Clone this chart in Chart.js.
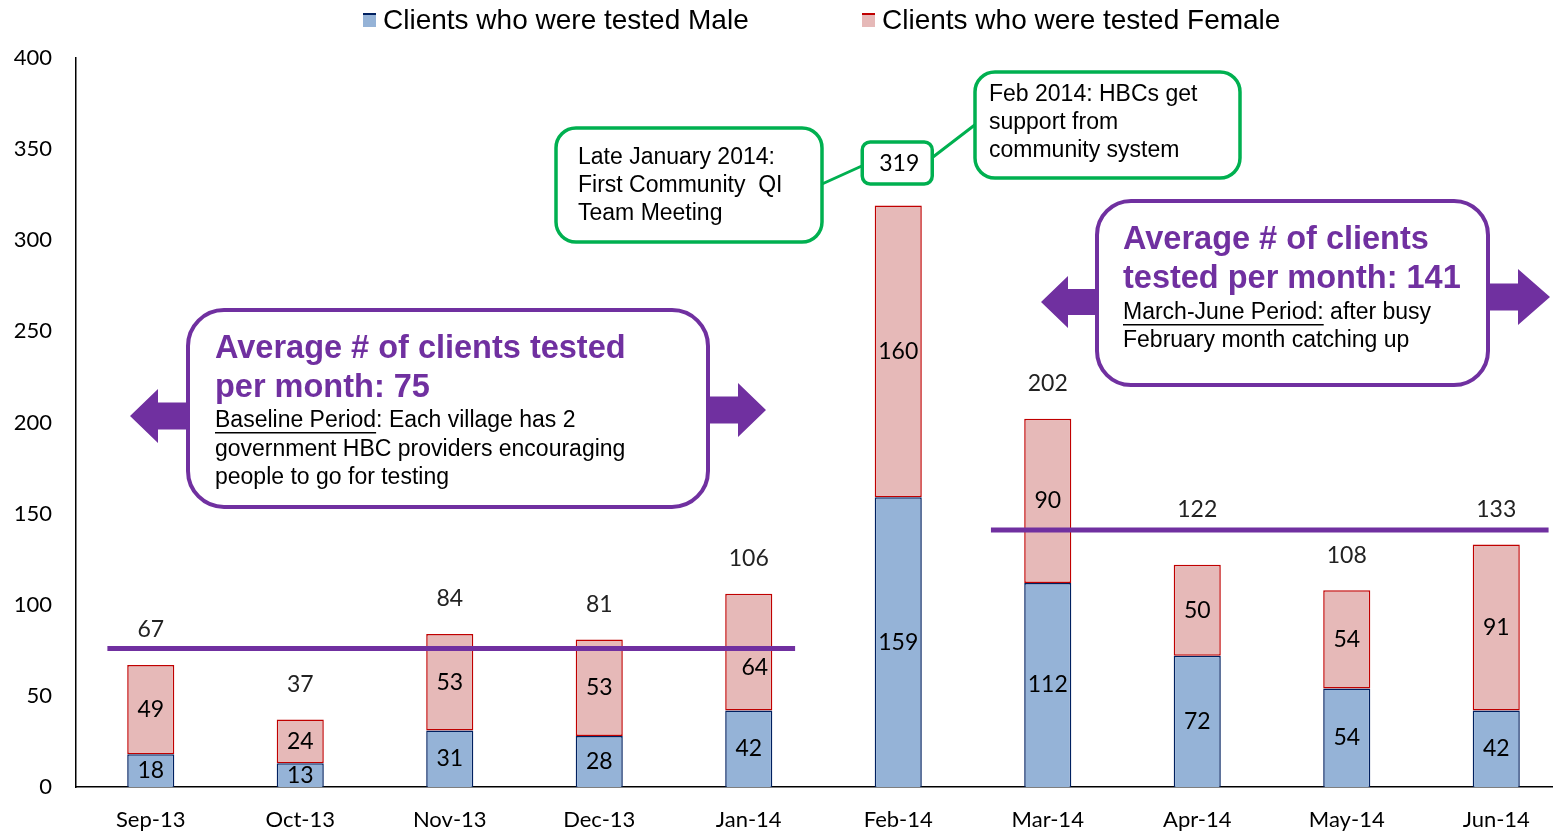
<!DOCTYPE html>
<html>
<head>
<meta charset="utf-8">
<script src="https://cdn.jsdelivr.net/npm/chart.js@4.4.1/dist/chart.umd.min.js"></script>
<style>
  html, body { margin: 0; padding: 0; overflow: hidden; background: #fff; }
  canvas { display: block; }
</style>
</head>
<body>
<canvas id="chart" width="1575" height="835"></canvas>
<script>
// ── DATA ────────────────────────────────────────────────────────────
var MONTHS = ["Sep-13", "Oct-13", "Nov-13", "Dec-13", "Jan-14", "Feb-14", "Mar-14", "Apr-14", "May-14", "Jun-14"];
var MALE   = [18, 13, 31, 28, 42, 159, 112, 72, 54, 42];
var FEMALE = [49, 24, 53, 53, 64, 160, 90, 50, 54, 91];
var TOTALS = [67, 37, 84, 81, 106, 319, 202, 122, 108, 133];
var LEGEND = ["Clients who were tested Male", "Clients who were tested Female"];
var AVG_BASELINE = 76;   // line as drawn (label says 75)
var AVG_LATER = 141;

// ── COLORS ──────────────────────────────────────────────────────────
var BLUE = "#95B3D7", NAVY = "#002060";
var PINK = "#E6B9B8", RED = "#C00000";
var PURPLE = "#7030A0", GREEN = "#00B050";
var ARIAL = "'Liberation Sans', Arial, sans-serif";

// ── HELPERS ─────────────────────────────────────────────────────────
function box(ctx, x, y, w, h, r, color, lw) {
    ctx.save();
    ctx.beginPath();
    ctx.roundRect(x, y, w, h, r);
    ctx.fillStyle = "#fff";
    ctx.fill();
    ctx.lineWidth = lw;
    ctx.strokeStyle = color;
    ctx.stroke();
    ctx.restore();
}

function poly(ctx, pts, color) {
    ctx.beginPath();
    ctx.moveTo(pts[0][0], pts[0][1]);
    for (var i = 1; i < pts.length; i++) ctx.lineTo(pts[i][0], pts[i][1]);
    ctx.closePath();
    ctx.fillStyle = color;
    ctx.fill();
}

// left-pointing arrow: tip x, shaft end x, centre y
function arrowLeft(ctx, tip, end, cy, headLen, headH, shaftH) {
    poly(ctx, [[tip, cy], [tip + headLen, cy - headH / 2], [tip + headLen, cy - shaftH / 2],
               [end, cy - shaftH / 2], [end, cy + shaftH / 2], [tip + headLen, cy + shaftH / 2],
               [tip + headLen, cy + headH / 2]], PURPLE);
}
function arrowRight(ctx, tip, end, cy, headLen, headH, shaftH) {
    poly(ctx, [[tip, cy], [tip - headLen, cy - headH / 2], [tip - headLen, cy - shaftH / 2],
               [end, cy - shaftH / 2], [end, cy + shaftH / 2], [tip - headLen, cy + shaftH / 2],
               [tip - headLen, cy + headH / 2]], PURPLE);
}

function lines(ctx, arr, x, y, step) {
    for (var i = 0; i < arr.length; i++) ctx.fillText(arr[i], x, y + i * step);
}

function underlined(ctx, head, rest, x, y) {
    var w = ctx.measureText(head).width;
    ctx.fillText(head, x, y);
    ctx.fillRect(x, y + 11, w, 1.5);
    ctx.fillText(rest, x + w, y);
}

// ── PLUGIN: labels, average lines, callouts ─────────────────────────
var overlay = {
    id: "overlay",
    afterDatasetsDraw: function (chart) {
        var ctx = chart.ctx;
        var xs = chart.scales.x, ys = chart.scales.y;

        // average lines
        ctx.save();
        ctx.strokeStyle = PURPLE;
        ctx.lineWidth = 5;
        ctx.beginPath();
        ctx.moveTo(xs.getPixelForValue(-0.29), ys.getPixelForValue(AVG_BASELINE));
        ctx.lineTo(xs.getPixelForValue(4.31), ys.getPixelForValue(AVG_BASELINE));
        ctx.moveTo(xs.getPixelForValue(5.62), ys.getPixelForValue(AVG_LATER));
        ctx.lineTo(xs.getPixelForValue(9.35), ys.getPixelForValue(AVG_LATER));
        ctx.stroke();
        ctx.restore();

        // segment labels
        ctx.save();
        ctx.font = "23px Lato";
        ctx.textAlign = "center";
        ctx.textBaseline = "middle";
        ctx.fillStyle = "#000";
        for (var d = 0; d < 2; d++) {
            var meta = chart.getDatasetMeta(d);
            var vals = chart.data.datasets[d].data;
            for (var i = 0; i < meta.data.length; i++) {
                var el = meta.data[i];
                var dx = 0, dy = 0;
                if (d === 1 && i === 4) { dx = 6; dy = 15; }  // pushed below the average line
                ctx.fillText(String(vals[i]), el.x + dx, (el.y + el.base) / 2 + dy);
            }
        }

        // totals above the stacks
        var top = chart.getDatasetMeta(1).data;
        ctx.fillStyle = "#222";
        for (var j = 0; j < TOTALS.length; j++) {
            if (j === 5) continue;
            var lift = j === 7 ? 55 : 35;
            ctx.fillText(String(TOTALS[j]), top[j].x, top[j].y - lift);
        }
        ctx.restore();

        // green callouts
        ctx.save();
        ctx.strokeStyle = GREEN;
        ctx.lineWidth = 3;
        ctx.beginPath();
        ctx.moveTo(822, 184); ctx.lineTo(864, 165);
        ctx.moveTo(933, 157); ctx.lineTo(976, 124);
        ctx.stroke();
        box(ctx, 556, 128, 266, 114, 20, GREEN, 3.5);
        box(ctx, 975, 72, 265, 106, 20, GREEN, 3.5);
        var fb = chart.getDatasetMeta(1).data[5];
        box(ctx, fb.x - 36, 142, 70, 42, 8, GREEN, 3.5);
        ctx.fillStyle = "#000";
        ctx.textBaseline = "middle";
        ctx.font = "23px Lato";
        ctx.textAlign = "center";
        ctx.fillText(String(TOTALS[5]), fb.x + 1, 164);
        ctx.textAlign = "left";
        ctx.font = "23px " + ARIAL;
        lines(ctx, ["Late January 2014:", "First Community  QI", "Team Meeting"], 578, 158, 28);
        lines(ctx, ["Feb 2014: HBCs get", "support from", "community system"], 989, 95, 28);
        ctx.restore();

        // purple callouts with arrows
        ctx.save();
        arrowLeft(ctx, 130, 192, 416, 28, 54, 27);
        arrowRight(ctx, 766, 704, 410, 28, 54, 27);
        box(ctx, 188, 310, 520, 197, 36, PURPLE, 4);
        arrowLeft(ctx, 1041, 1101, 302, 27, 52, 26);
        arrowRight(ctx, 1550, 1484, 297, 32, 56, 27);
        box(ctx, 1097, 201, 391, 184, 34, PURPLE, 4);

        ctx.textAlign = "left";
        ctx.textBaseline = "middle";
        ctx.fillStyle = PURPLE;
        ctx.font = "bold 32.5px " + ARIAL;
        lines(ctx, ["Average # of clients tested", "per month: 75"], 215, 349, 39);
        lines(ctx, ["Average # of clients", "tested per month: 141"], 1123, 240, 39);

        ctx.fillStyle = "#000";
        ctx.font = "23px " + ARIAL;
        underlined(ctx, "Baseline Period", ": Each village has 2", 215, 421);
        lines(ctx, ["government HBC providers encouraging", "people to go for testing"], 215, 450, 28);
        underlined(ctx, "March-June Period:", " after busy", 1123, 313);
        ctx.fillText("February month catching up", 1123, 341);
        ctx.restore();

        // legend
        ctx.save();
        var lx = [363, 862], fills = [BLUE, PINK], edges = [NAVY, RED];
        ctx.font = "28px " + ARIAL;
        ctx.textBaseline = "middle";
        ctx.textAlign = "left";
        for (var k = 0; k < 2; k++) {
            ctx.fillStyle = fills[k];
            ctx.fillRect(lx[k], 13, 13, 14);
            ctx.fillStyle = edges[k];
            ctx.fillRect(lx[k], 13, 13, 2);
            ctx.fillStyle = "#000";
            ctx.fillText(LEGEND[k], lx[k] + 20, 21);
        }
        ctx.restore();
    }
};

// ── CHART ───────────────────────────────────────────────────────────
Chart.defaults.font.family = "Lato";
Chart.defaults.color = "#000";

new Chart(document.getElementById("chart"), {
    type: "bar",
    data: {
        labels: MONTHS,
        datasets: [
            {
                label: LEGEND[0],
                data: MALE,
                backgroundColor: BLUE,
                borderColor: NAVY,
                borderWidth: 1.5,
                borderSkipped: "start"
            },
            {
                label: LEGEND[1],
                data: FEMALE,
                backgroundColor: PINK,
                borderColor: RED,
                borderWidth: 1.5,
                borderSkipped: false
            }
        ]
    },
    options: {
        responsive: false,
        animation: false,
        events: [],
        layout: { padding: { top: 58, right: 4, left: 0, bottom: 0 } },
        datasets: { bar: { barPercentage: 0.315, categoryPercentage: 1 } },
        plugins: { legend: { display: false }, tooltip: { enabled: false } },
        scales: {
            x: {
                stacked: true,
                grid: { display: false, drawTicks: false },
                border: { color: "#000", width: 1.5 },
                ticks: { font: { size: 22 }, padding: 20, maxRotation: 0, autoSkip: false },
                afterFit: function (s) { s.height = 48; }
            },
            y: {
                stacked: true,
                min: 0,
                max: 400,
                grid: { display: false, drawTicks: false },
                border: { color: "#000", width: 1.5 },
                ticks: { stepSize: 50, font: { size: 22 }, padding: 24 },
                afterFit: function (s) { s.width = 76; }
            }
        }
    },
    plugins: [overlay]
});
</script>
</body>
</html>
